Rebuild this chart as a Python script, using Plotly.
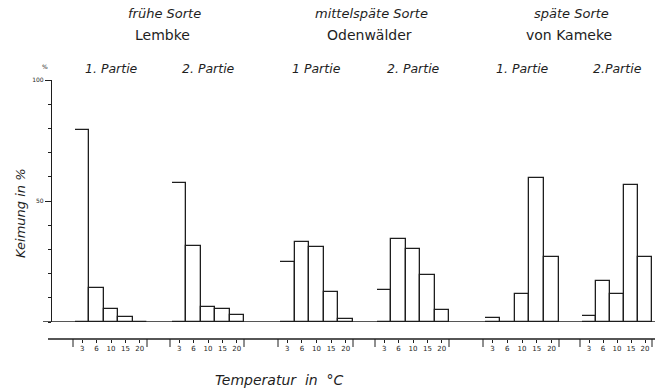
import plotly.graph_objects as go

W, H = 661, 391

temps = ["3", "6", "10", "15", "20"]
variety_top = ["frühe Sorte", "mittelspäte Sorte", "späte Sorte"]
variety_name = ["Lembke", "Odenwälder", "von Kameke"]
partie_labels = ["1. Partie", "2. Partie", "1 Partie", "2. Partie", "1. Partie", "2.Partie"]

lembke_1 = [79.3, 14.0, 5.2, 2.2, 0.0]
lembke_2 = [57.3, 31.4, 6.3, 5.2, 2.9]
odenw_1 = [24.7, 33.2, 30.9, 12.3, 1.2]
odenw_2 = [13.2, 34.2, 30.2, 19.3, 4.8]
kameke_1 = [1.8, 0.0, 11.4, 59.6, 27.0]
kameke_2 = [2.5, 17.1, 11.6, 56.7, 27.0]
groups = [lembke_1, lembke_2, odenw_1, odenw_2, kameke_1, kameke_2]

# layout geometry (pixels)
group_px = [(75, 147), (172, 244), (280, 353), (377, 449), (485, 559), (582, 652)]
y0_px, y100_px = 322, 80
scale_y_px = 339
yaxis_x_px = 51

def fx(px):
    return px / W

def fy(py):
    return 1 - py / H

ink = "#1e1e1e"
fnt = "DejaVu Sans"

fig = go.Figure()
for i, vals in enumerate(groups):
    xa = "x" if i == 0 else f"x{i+1}"
    fig.add_trace(go.Bar(
        x=temps, y=vals, xaxis=xa, yaxis="y",
        marker=dict(color="white", line=dict(color=ink, width=1.3)),
        showlegend=False, hoverinfo="skip",
    ))

layout = dict(
    width=W, height=H,
    margin=dict(l=0, r=0, t=0, b=0, autoexpand=False),
    paper_bgcolor="white", plot_bgcolor="white",
    bargap=0,
    font=dict(family=fnt, color=ink),
    yaxis=dict(
        domain=[fy(y0_px), fy(y100_px)], range=[0, 100],
        anchor="free", position=fx(yaxis_x_px),
        showline=True, linecolor=ink, linewidth=1.3,
        showgrid=False, zeroline=False,
        tickvals=[50, 100], ticktext=["50", "100"],
        ticks="outside", ticklen=6, tickwidth=1.1, tickcolor=ink,
        tickfont=dict(size=6, color=ink),
        minor=dict(dtick=10, ticks="outside", ticklen=3, tickcolor=ink, tickwidth=1),
    ),
)
for i, (a, b) in enumerate(group_px):
    key = "xaxis" if i == 0 else f"xaxis{i+1}"
    layout[key] = dict(
        domain=[fx(a), fx(b)], range=[-0.5, 4.5],
        type="category", categoryorder="array", categoryarray=temps,
        anchor="free", position=fy(scale_y_px),
        showline=False, showgrid=False, zeroline=False,
        ticks="outside", ticklen=3, tickwidth=1, tickcolor=ink,
        tickfont=dict(size=7, color=ink),
    )
fig.update_layout(**layout)

shapes = []
# baseline (0 %)
shapes.append(dict(type="line", xref="paper", yref="y", x0=fx(43), x1=fx(655), y0=0, y1=0,
                   line=dict(color=ink, width=1.4)))
# lower temperature scale line
shapes.append(dict(type="line", xref="paper", yref="paper", x0=fx(48), x1=fx(655),
                   y0=fy(scale_y_px), y1=fy(scale_y_px), line=dict(color=ink, width=1.3)))
# group brackets on the temperature scale
for i, (a, b) in enumerate(group_px):
    for px in (a - 2, b):
        shapes.append(dict(type="line", xref="paper", yref="paper", x0=fx(px), x1=fx(px),
                           y0=fy(scale_y_px), y1=fy(scale_y_px + 8), line=dict(color=ink, width=1)))
fig.update_layout(shapes=shapes)

ann = []
for i, lab in enumerate(partie_labels):
    xa = "x" if i == 0 else f"x{i+1}"
    ann.append(dict(text=f"<i>{lab}</i>", xref=f"{xa} domain", x=0.5, yref="paper", y=fy(68),
                    showarrow=False, font=dict(size=12.5, color=ink), xanchor="center", yanchor="middle"))
title_cx = [164, 372, 571]
for k in range(3):
    cx = fx(title_cx[k])
    ann.append(dict(text=f"<i>{variety_top[k]}</i>", xref="paper", x=cx, yref="paper", y=fy(14),
                    showarrow=False, font=dict(size=13, color=ink), xanchor="center", yanchor="middle"))
    ann.append(dict(text=variety_name[k], xref="paper", x=cx - fx(2), yref="paper", y=fy(35),
                    showarrow=False, font=dict(size=14, color=ink), xanchor="center", yanchor="middle"))
ann.append(dict(text="%", xref="paper", x=fx(45), yref="paper", y=fy(67), showarrow=False,
                font=dict(size=6, color=ink), xanchor="center", yanchor="middle"))
ann.append(dict(text="<i>Keimung in %</i>", xref="paper", x=fx(20), yref="paper", y=fy(213),
                showarrow=False, textangle=-90, font=dict(size=13, color=ink),
                xanchor="center", yanchor="middle"))
ann.append(dict(text="<i>Temperatur  in  °C</i>", xref="paper", x=fx(279), yref="paper", y=fy(380),
                showarrow=False, font=dict(size=14, color=ink), xanchor="center", yanchor="middle"))
fig.update_layout(annotations=ann)

fig.write_html(
    "out.html",
    config={"displayModeBar": False},
    post_script="document.body.style.margin='0';document.body.style.overflow='hidden';",
)
